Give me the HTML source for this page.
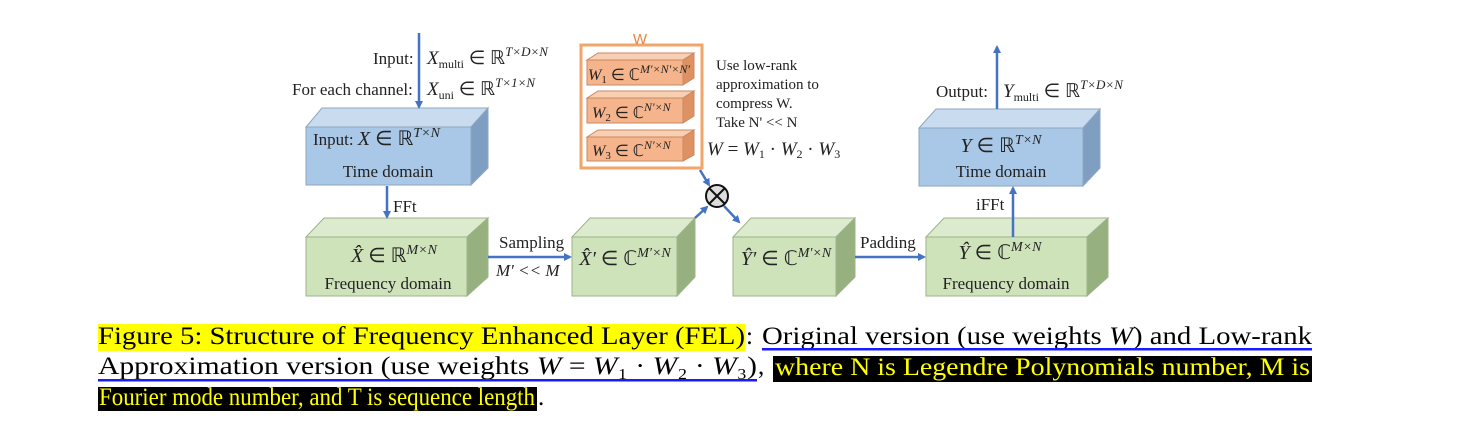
<!DOCTYPE html>
<html><head><meta charset="utf-8"><style>
html,body{margin:0;padding:0;background:#fff;}
svg{display:block;font-family:"Liberation Serif","Times New Roman",Times,serif;}
.i{font-style:italic}
</style></head><body>
<svg width="1465" height="436" viewBox="0 0 1465 436" xmlns="http://www.w3.org/2000/svg">
<defs>
<marker id="ah" markerWidth="8" markerHeight="8" refX="6" refY="4" orient="auto" markerUnits="userSpaceOnUse">
<path d="M0,0 L8,4 L0,8 z" fill="#4472c4"/></marker>
</defs>
<g stroke="#8ea7bf" stroke-width="1">
<polygon points="306,127 322,108 488,108 471,127" fill="#c9dcef"/>
<polygon points="471,127 488,108 488,168 471,185" fill="#7e9fc2"/>
<rect x="306" y="127" width="165" height="58" fill="#a9c7e6"/>
<polygon points="919,128 936,109 1100,109 1083,128" fill="#c9dcef"/>
<polygon points="1083,128 1100,109 1100,168 1083,186" fill="#7e9fc2"/>
<rect x="919" y="128" width="164" height="58" fill="#a9c7e6"/>
</g>
<g stroke="#9cb38a" stroke-width="1">
<polygon points="306,237 324,218 488,218 467,237" fill="#dcebcd"/>
<polygon points="467,237 488,218 488,277 467,296" fill="#97b080"/>
<rect x="306" y="237" width="161" height="59" fill="#cfe3bb"/>
<polygon points="572,237 590,218 695,218 677,237" fill="#dcebcd"/>
<polygon points="677,237 695,218 695,277 677,296" fill="#97b080"/>
<rect x="572" y="237" width="105" height="59" fill="#cfe3bb"/>
<polygon points="733,237 751,218 855,218 836,237" fill="#dcebcd"/>
<polygon points="836,237 855,218 855,277 836,296" fill="#97b080"/>
<rect x="733" y="237" width="103" height="59" fill="#cfe3bb"/>
<polygon points="926,237 944,218 1108,218 1087,237" fill="#dcebcd"/>
<polygon points="1087,237 1108,218 1108,277 1087,296" fill="#97b080"/>
<rect x="926" y="237" width="161" height="59" fill="#cfe3bb"/>
</g>
<rect x="581" y="45" width="121" height="123" fill="#fff" stroke="#f2a56b" stroke-width="3"/>
<text x="640" y="44" font-family="Liberation Sans,sans-serif" font-size="15" fill="#e8853f" text-anchor="middle">W</text>
<g stroke="#c98a62" stroke-width="1">
<polygon points="587,60 598,53 694,53 683,60" fill="#f8cfb2"/><polygon points="683,60 694,53 694,78 683,85" fill="#de9163"/><rect x="587" y="60" width="96" height="25" fill="#f5b48b"/>
<polygon points="587,98 598,91 694,91 683,98" fill="#f8cfb2"/><polygon points="683,98 694,91 694,116 683,123" fill="#de9163"/><rect x="587" y="98" width="96" height="25" fill="#f5b48b"/>
<polygon points="587,137 598,130 694,130 683,137" fill="#f8cfb2"/><polygon points="683,137 694,130 694,155 683,161" fill="#de9163"/><rect x="587" y="137" width="96" height="24" fill="#f5b48b"/>
</g>
<g font-size="16" fill="#222">
<text x="588" y="80"><tspan class="i">W</tspan><tspan font-size="11" dy="3">1</tspan><tspan dy="-3"> ∈ ℂ</tspan><tspan class="i" font-size="12" dy="-7">M′×N′×N′</tspan></text>
<text x="592" y="118"><tspan class="i">W</tspan><tspan font-size="11" dy="3">2</tspan><tspan dy="-3"> ∈ ℂ</tspan><tspan class="i" font-size="12" dy="-7">N′×N</tspan></text>
<text x="592" y="156"><tspan class="i">W</tspan><tspan font-size="11" dy="3">3</tspan><tspan dy="-3"> ∈ ℂ</tspan><tspan class="i" font-size="12" dy="-7">N′×N</tspan></text>
</g>
<g stroke="#4472c4" stroke-width="2.5" fill="none" marker-end="url(#ah)">
<line x1="419" y1="33" x2="419" y2="107"/>
<line x1="387" y1="186" x2="387" y2="217"/>
<line x1="488" y1="257" x2="570" y2="257"/>
<line x1="855" y1="257" x2="924" y2="257"/>
<line x1="1013" y1="237" x2="1013" y2="188"/>
<line x1="997" y1="109" x2="997" y2="47"/>
<line x1="700" y1="170" x2="709" y2="185"/>
<line x1="695" y1="218" x2="707" y2="207"/>
<line x1="724" y1="206" x2="739" y2="222"/>
</g>
<circle cx="717" cy="196" r="11" fill="#ddd" stroke="#111" stroke-width="2"/>
<line x1="709" y1="188" x2="725" y2="204" stroke="#111" stroke-width="2"/>
<line x1="725" y1="188" x2="709" y2="204" stroke="#111" stroke-width="2"/>
<g font-size="17" fill="#222">
<text x="373" y="64">Input:</text>
<text x="427" y="64"><tspan class="i" font-size="19">X</tspan><tspan font-size="12" dy="4">multi</tspan><tspan dy="-4" font-size="19"> ∈ ℝ</tspan><tspan class="i" font-size="13" dy="-8">T×D×N</tspan></text>
<text x="292" y="95">For each channel:</text>
<text x="427" y="95"><tspan class="i" font-size="19">X</tspan><tspan font-size="12" dy="4">uni</tspan><tspan dy="-4" font-size="19"> ∈ ℝ</tspan><tspan class="i" font-size="13" dy="-8">T×1×N</tspan></text>
<text x="313" y="145">Input:  <tspan class="i" font-size="20">X</tspan><tspan font-size="20"> ∈ ℝ</tspan><tspan class="i" font-size="14" dy="-8">T×N</tspan></text>
<text x="388" y="177" text-anchor="middle">Time domain</text>
<text x="393" y="212">FFt</text>
<text x="394" y="262" text-anchor="middle"><tspan class="i" font-size="20">X̂</tspan><tspan font-size="20"> ∈ ℝ</tspan><tspan class="i" font-size="14" dy="-8">M×N</tspan></text>
<text x="388" y="289" text-anchor="middle">Frequency domain</text>
<text x="499" y="248">Sampling</text>
<text x="496" y="276" class="i">M′ &lt;&lt; M</text>
<text x="625" y="265" text-anchor="middle"><tspan class="i" font-size="20">X̂′</tspan><tspan font-size="20"> ∈ ℂ</tspan><tspan class="i" font-size="14" dy="-8">M′×N</tspan></text>
<text x="786" y="265" text-anchor="middle"><tspan class="i" font-size="20">Ŷ′</tspan><tspan font-size="20"> ∈ ℂ</tspan><tspan class="i" font-size="14" dy="-8">M′×N</tspan></text>
<text x="860" y="248">Padding</text>
<text x="1000" y="259" text-anchor="middle"><tspan class="i" font-size="20">Ŷ</tspan><tspan font-size="20"> ∈ ℂ</tspan><tspan class="i" font-size="14" dy="-8">M×N</tspan></text>
<text x="1006" y="289" text-anchor="middle">Frequency domain</text>
<text x="976" y="210">iFFt</text>
<text x="1001" y="152" text-anchor="middle"><tspan class="i" font-size="20">Y</tspan><tspan font-size="20"> ∈ ℝ</tspan><tspan class="i" font-size="14" dy="-8">T×N</tspan></text>
<text x="1001" y="177" text-anchor="middle">Time domain</text>
<text x="936" y="97">Output:</text>
<text x="1003" y="97"><tspan class="i" font-size="19">Y</tspan><tspan font-size="12" dy="4">multi</tspan><tspan dy="-4" font-size="19"> ∈ ℝ</tspan><tspan class="i" font-size="13" dy="-8">T×D×N</tspan></text>
<text x="716" y="70" font-size="15">Use low-rank</text>
<text x="716" y="89" font-size="15">approximation to</text>
<text x="716" y="108" font-size="15">compress W.</text>
<text x="716" y="127" font-size="15">Take N' &lt;&lt; N</text>
<text x="707" y="155" font-size="19"><tspan class="i">W</tspan> = <tspan class="i">W</tspan><tspan font-size="12" dy="3">1</tspan><tspan dy="-3"> · </tspan><tspan class="i">W</tspan><tspan font-size="12" dy="3">2</tspan><tspan dy="-3"> · </tspan><tspan class="i">W</tspan><tspan font-size="12" dy="3">3</tspan></text>
</g>
<rect x="98" y="324" width="647" height="27" fill="#ffff00"/>
<text x="98" y="344" font-size="25" fill="#000" textLength="647" lengthAdjust="spacingAndGlyphs">Figure 5:  Structure of Frequency Enhanced Layer (FEL)</text>
<text x="746" y="344" font-size="25">:</text>
<text x="762" y="344" font-size="25" textLength="550" lengthAdjust="spacingAndGlyphs">Original version (use weights <tspan class="i">W</tspan>) and Low-rank</text>
<rect x="762" y="348" width="550" height="2.5" fill="#1a1aff"/>
<text x="98" y="374" font-size="25" textLength="659" lengthAdjust="spacingAndGlyphs">Approximation version (use weights <tspan class="i">W</tspan> = <tspan class="i">W</tspan>₁ · <tspan class="i">W</tspan>₂ · <tspan class="i">W</tspan>₃)</text>
<rect x="98" y="379" width="659" height="2.5" fill="#1a1aff"/>
<text x="758" y="374" font-size="25">,</text>
<rect x="773" y="356" width="539" height="26" fill="#000"/>
<text x="775" y="375" font-size="25" fill="#ffff00" textLength="535" lengthAdjust="spacingAndGlyphs">where N is Legendre Polynomials number, M is</text>
<rect x="98" y="387" width="439" height="24" fill="#000"/>
<text x="99" y="405" font-size="25" fill="#ffff00" textLength="436" lengthAdjust="spacingAndGlyphs">Fourier mode number, and T is sequence length</text>
<text x="538" y="405" font-size="25">.</text>
</svg>
</body></html>
